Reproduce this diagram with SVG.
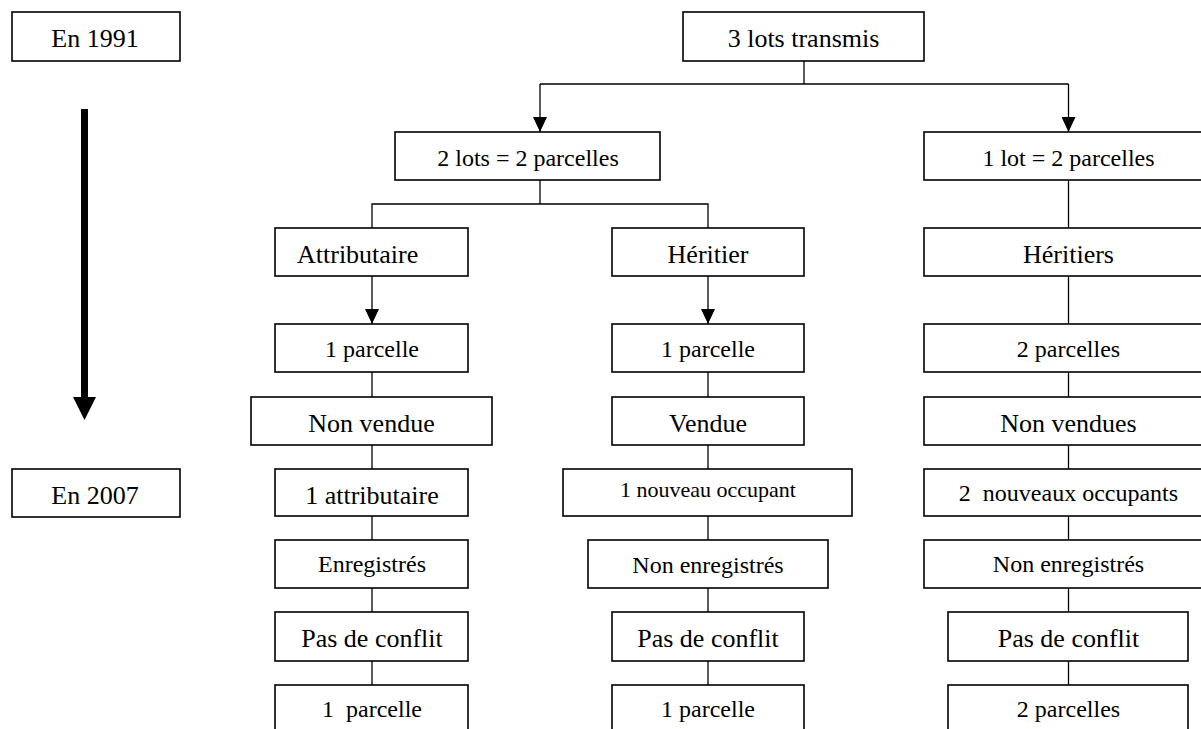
<svg xmlns="http://www.w3.org/2000/svg" width="1201" height="729" viewBox="0 0 1201 729">
  <style>
    .box { fill: #fff; stroke: #000; stroke-width: 1.6; }
    .link { fill: none; stroke: #000; stroke-width: 1.3; }
    text { font-family: "Liberation Serif", "Times New Roman", serif; fill: #000; text-anchor: middle; }
    .l { font-size: 26px; }
    .m { font-size: 24px; }
    .s { font-size: 22px; }
  </style>
  <defs>
    <!-- filled triangular head, pointing along the line direction -->
    <marker id="head" viewBox="0 0 15 14" refX="15" refY="7" markerWidth="15" markerHeight="14" markerUnits="userSpaceOnUse" orient="auto">
      <path d="M0,0 L15,7 L0,14 Z" fill="#000"/>
    </marker>
  </defs>
  <rect width="1201" height="729" fill="#fff"/>

  <!-- time axis -->
  <g id="timeline">
    <rect x="81" y="109" width="7" height="289" fill="#000"/>
    <path d="M73,397 L96,397 L84.5,420 Z" fill="#000"/>
  </g>

  <!-- connectors -->
  <g id="connectors">
    <path class="link" d="M804,61 V84"/>
    <path class="link" d="M540,84 H1068.5"/>
    <path class="link" d="M540,84 V132" marker-end="url(#head)"/>
    <path class="link" d="M1068.5,84 V132" marker-end="url(#head)"/>
    <path class="link" d="M540,180 V204 M372,228 V204 H708 V228"/>
    <path class="link" d="M1068.5,180 V228"/>
    <path class="link" d="M372,276 V324" marker-end="url(#head)"/>
    <path class="link" d="M708,276 V324" marker-end="url(#head)"/>
    <path class="link" d="M1068.5,276 V324"/>
    <path class="link" d="M372,372 V397 M372,445 V469 M372,516 V540 M372,588 V612 M372,661 V685"/>
    <path class="link" d="M708,372 V397 M708,445 V469 M708,516 V540 M708,588 V612 M708,661 V685"/>
    <path class="link" d="M1068.5,372 V397 M1068.5,445 V469 M1068.5,516 V540 M1068.5,588 V612 M1068.5,661 V685"/>
  </g>

  <!-- period labels -->
  <g id="n-1991"><rect class="box" x="12" y="12" width="168" height="49"/><text class="l" x="95" y="47">En 1991</text></g>
  <g id="n-2007"><rect class="box" x="12" y="469" width="168" height="48"/><text class="l" x="95" y="504">En 2007</text></g>

  <!-- root -->
  <g id="n-root"><rect class="box" x="683" y="12" width="241" height="49"/><text class="l" x="803.5" y="47">3 lots transmis</text></g>

  <!-- second level -->
  <g id="n-2lots"><rect class="box" x="395" y="132" width="265" height="48"/><text class="m" x="528" y="166">2 lots = 2 parcelles</text></g>
  <g id="n-1lot"><rect class="box" x="924" y="132" width="300" height="48"/><text class="m" x="1068.5" y="166">1 lot = 2 parcelles</text></g>

  <!-- left branch -->
  <g id="n-attributaire"><rect class="box" x="275" y="228" width="193" height="48"/><text class="l" x="297" y="263" style="text-anchor:start">Attributaire</text></g>
  <g id="n-a-parcelle"><rect class="box" x="275" y="324" width="193" height="48"/><text class="m" x="372" y="357">1 parcelle</text></g>
  <g id="n-a-nonvendue"><rect class="box" x="251" y="397" width="241" height="48"/><text class="l" x="371.5" y="432">Non vendue</text></g>
  <g id="n-a-attributaire"><rect class="box" x="275" y="469" width="193" height="47"/><text class="l" x="372" y="504">1 attributaire</text></g>
  <g id="n-a-enregistres"><rect class="box" x="275" y="540" width="193" height="48"/><text class="m" x="372" y="572">Enregistrés</text></g>
  <g id="n-a-conflit"><rect class="box" x="275" y="612" width="193" height="49"/><text class="l" x="372" y="647">Pas de conflit</text></g>
  <g id="n-a-final"><rect class="box" x="275" y="685" width="193" height="60"/><text class="m" x="372" y="717" xml:space="preserve">1  parcelle</text></g>

  <!-- middle branch -->
  <g id="n-heritier"><rect class="box" x="612" y="228" width="192" height="48"/><text class="l" x="708" y="263">Héritier</text></g>
  <g id="n-h-parcelle"><rect class="box" x="612" y="324" width="192" height="48"/><text class="m" x="708" y="357">1 parcelle</text></g>
  <g id="n-h-vendue"><rect class="box" x="612" y="397" width="192" height="48"/><text class="l" x="708" y="432">Vendue</text></g>
  <g id="n-h-occupant"><rect class="box" x="563" y="469" width="289" height="47"/><text class="s" x="708" y="497">1 nouveau occupant</text></g>
  <g id="n-h-nonenreg"><rect class="box" x="588" y="540" width="240" height="48"/><text class="m" x="708" y="573">Non enregistrés</text></g>
  <g id="n-h-conflit"><rect class="box" x="612" y="612" width="192" height="49"/><text class="l" x="708" y="647">Pas de conflit</text></g>
  <g id="n-h-final"><rect class="box" x="612" y="685" width="192" height="60"/><text class="m" x="708" y="717">1 parcelle</text></g>

  <!-- right branch -->
  <g id="n-heritiers"><rect class="box" x="924" y="228" width="300" height="48"/><text class="l" x="1068.5" y="263">Héritiers</text></g>
  <g id="n-r-parcelles"><rect class="box" x="924" y="324" width="300" height="48"/><text class="m" x="1068.5" y="357">2 parcelles</text></g>
  <g id="n-r-nonvendues"><rect class="box" x="924" y="397" width="300" height="48"/><text class="l" x="1068.5" y="432">Non vendues</text></g>
  <g id="n-r-occupants"><rect class="box" x="924" y="469" width="300" height="47"/><text class="m" x="1068.5" y="501" xml:space="preserve">2  nouveaux occupants</text></g>
  <g id="n-r-nonenreg"><rect class="box" x="924" y="540" width="300" height="48"/><text class="m" x="1068.5" y="572">Non enregistrés</text></g>
  <g id="n-r-conflit"><rect class="box" x="948" y="612" width="240" height="49"/><text class="l" x="1068.5" y="647">Pas de conflit</text></g>
  <g id="n-r-final"><rect class="box" x="948" y="685" width="240" height="60"/><text class="m" x="1068.5" y="717">2 parcelles</text></g>
</svg>
